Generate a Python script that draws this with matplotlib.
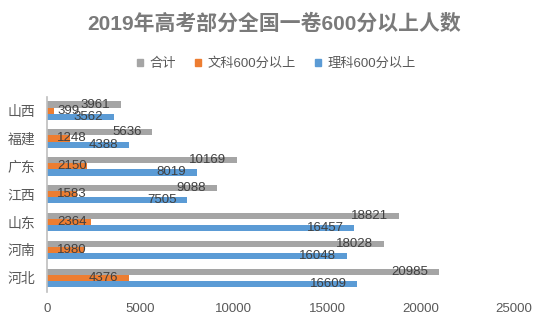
import matplotlib
matplotlib.use('Agg')
import matplotlib.pyplot as plt
from matplotlib.patches import Patch
import numpy as np

plt.rcParams['font.family'] = ['Liberation Sans', 'Noto Sans CJK SC']

# data, bottom to top as drawn
provinces = ['河北', '河南', '山东', '江西', '广东', '福建', '山西']
total = [20985, 18028, 18821, 9088, 10169, 5636, 3961]
arts = [4376, 1980, 2364, 1583, 2150, 1248, 399]
science = [16609, 16048, 16457, 7505, 8019, 4388, 3562]
series_names = ['合计', '文科600分以上', '理科600分以上']
colors = ['#A5A5A5', '#ED7D31', '#5B9BD5']
xticks = [0, 5000, 10000, 15000, 20000, 25000]

fig = plt.figure(figsize=(5.53, 3.28), dpi=100)
ax = fig.add_axes([47/553, 1 - 291.7/328, 467/553, 195/328])

y = np.arange(len(provinces))
h = 0.22
label_color = '#404040'

for vals, off, col in zip([total, arts, science], [h, 0, -h], colors):
    ax.barh(y + off, vals, height=h, color=col, zorder=2)
    for yi, v in zip(y, vals):
        if v > 0.11 * xticks[-1]:
            ax.annotate(str(v), (v, yi + off), xytext=(-7.5, 0), textcoords='offset points',
                        ha='right', va='center', fontsize=9.5, color=label_color, zorder=5)
        else:
            ax.annotate(str(v), (0, yi + off), xytext=(7.5, 0), textcoords='offset points',
                        ha='left', va='center', fontsize=9.5, color=label_color, zorder=5)

ax.set_xlim(0, xticks[-1])
ax.set_ylim(-0.5, len(provinces) - 0.5)
ax.set_xticks(xticks)
ax.set_yticks(y)
ax.set_yticklabels(provinces)
ax.tick_params(axis='x', length=0, pad=8, labelsize=9.5, colors='#595959')
ax.tick_params(axis='y', length=0, pad=8.5, labelsize=10, colors='#595959')
for s in ['top', 'right', 'bottom']:
    ax.spines[s].set_visible(False)
ax.spines['left'].set_color('#BFBFBF')
ax.spines['left'].set_linewidth(1.2)

fig.text(0.496, 1 - 23.5/328, '2019年高考部分全国一卷600分以上人数', ha='center', va='center',
         fontsize=15, fontweight='bold', color='#7A7A7A')

handles = [Patch(color=c, label=n) for c, n in zip(colors, series_names)]
fig.legend(handles=handles, loc='center', bbox_to_anchor=(0.5, 1 - 63.5/328), ncol=3,
           frameon=False, fontsize=9.5, handlelength=0.45, handleheight=0.45,
           handletextpad=0.45, columnspacing=1.5, labelcolor='#595959')

fig.savefig('out.png', dpi=100)
